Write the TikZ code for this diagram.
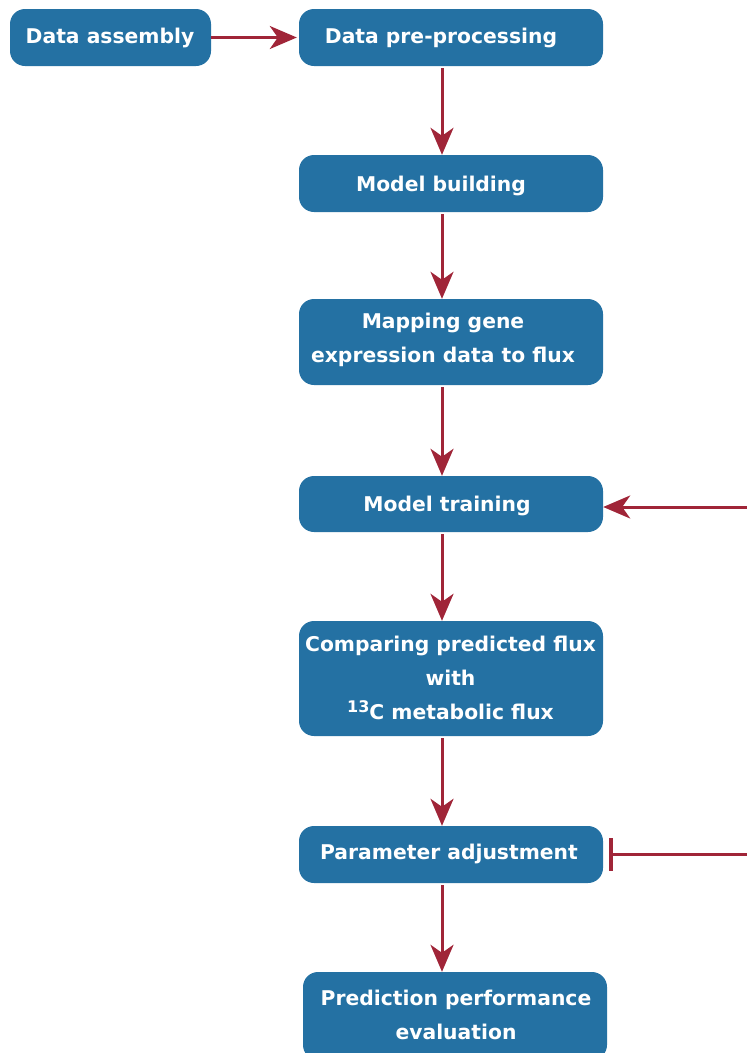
\documentclass[tikz,border=0pt]{standalone}
\usepackage{fontspec}
\setmainfont{DejaVu Sans}
\usetikzlibrary{arrows.meta}
\definecolor{boxblue}{HTML}{2471A3}
\definecolor{arrred}{HTML}{A02538}
\begin{document}
\begin{tikzpicture}[x=1pt,y=-1pt,
  box/.style={draw=none,fill=boxblue,rounded corners=15pt,inner sep=0pt},
  txt/.style={text=white,font=\bfseries\fontsize{20.3}{34}\selectfont,align=center,inner sep=0pt},
  arr/.style={draw=arrred,line width=3pt,-{Stealth[length=27pt,width=23pt,inset=8pt]}},
  inh/.style={draw=arrred,line width=3pt,-{Bar[width=33pt,line width=3.5pt]}}]
\useasboundingbox (0,0) rectangle (747,1053);
\begin{scope}
\clip (0,0) rectangle (747,1053);
% boxes
\node[box,minimum width=201pt,minimum height=57pt] (b0) at (110.5,37.5) {};
\node[box,minimum width=304pt,minimum height=57pt] (b1) at (451,37.5) {};
\node[box,minimum width=304pt,minimum height=57pt] (b2) at (451,183.5) {};
\node[box,minimum width=304pt,minimum height=86pt] (b3) at (451,342) {};
\node[box,minimum width=304pt,minimum height=56pt] (b4) at (451,504) {};
\node[box,minimum width=304pt,minimum height=115pt] (b5) at (451,678.5) {};
\node[box,minimum width=304pt,minimum height=57pt] (b6) at (451,854.5) {};
\node[box,minimum width=304pt,minimum height=88pt] (b7) at (455,1016) {};
% texts
\node[txt] (t0) at (110,38) {Data assembly};
\node[txt] (t1) at (441,38) {Data pre-processing};
\node[txt] (t2) at (441,186) {Model building};
\node[txt] (t3) at (443,340) {Mapping gene\\expression data to flux};
\node[txt] (t4) at (447,506) {Model training};
\node[txt] (t5) at (450.5,678) {Comparing predicted flux\\with\\\raisebox{7pt}{\fontsize{16}{16}\selectfont 13}C metabolic flux};
\node[txt] (t6) at (449,854) {Parameter adjustment};
\node[txt] (t7) at (456,1015) {Prediction performance\\evaluation};
% connectors
\coordinate (ax) at (442,0);
\coordinate (r4) at (747,507);
\coordinate (r6) at (747,854);
\draw[arr] (b0.east) -- ([xshift=-2pt]b1.west);
\draw[arr,shorten <=2pt] (b1.south -| ax) -- (b2.north -| ax);
\draw[arr,shorten <=2pt] (b2.south -| ax) -- (b3.north -| ax);
\draw[arr,shorten <=2pt] (b3.south -| ax) -- (b4.north -| ax);
\draw[arr,shorten <=2pt] (b4.south -| ax) -- (b5.north -| ax);
\draw[arr,shorten <=2pt] (b5.south -| ax) -- (b6.north -| ax);
\draw[arr,shorten <=2pt] (b6.south -| ax) -- (b7.north -| ax);
\draw[arr] (r4) -- (b4.east |- r4);
\draw[inh] (r6) -- ([xshift=6pt]b6.east |- r6);
\end{scope}
\end{tikzpicture}
\end{document}
